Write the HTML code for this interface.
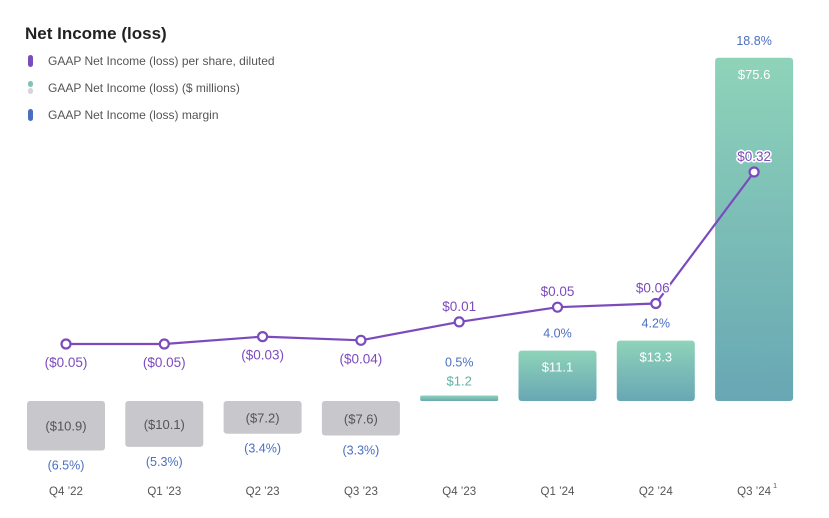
<!DOCTYPE html>
<html><head><meta charset="utf-8">
<style>
body{margin:0;background:#fff;font-family:"Liberation Sans",sans-serif;}
svg text{font-family:"Liberation Sans",sans-serif;}
</style></head>
<body>
<svg width="829" height="513" viewBox="0 0 829 513" xmlns="http://www.w3.org/2000/svg">
<defs>
<linearGradient id="teal" x1="0" y1="0" x2="0" y2="1">
<stop offset="0" stop-color="#8ed3b9"/><stop offset="1" stop-color="#68a7b4"/>
</linearGradient>
</defs>
<text x="25" y="39" font-size="17" font-weight="bold" fill="#222">Net Income (loss)</text>
<g>
<rect x="28" y="55" width="5" height="12" rx="2.5" fill="#7b4bbd"/>
<text x="48" y="65" font-size="12" fill="#555">GAAP Net Income (loss) per share, diluted</text>
<rect x="28" y="81" width="5" height="6" rx="2.5" fill="#7fc4b6"/>
<rect x="28" y="88" width="5" height="6" rx="2.5" fill="#d6d4da"/>
<text x="48" y="92" font-size="12" fill="#555">GAAP Net Income (loss) ($ millions)</text>
<rect x="28" y="109" width="5" height="12" rx="2.5" fill="#4a6fc0"/>
<text x="48" y="119" font-size="12" fill="#555">GAAP Net Income (loss) margin</text>
</g>
<g id="plot"></g>
</svg>
<script>
const categories = ["Q4 \u201922","Q1 \u201923","Q2 \u201923","Q3 \u201923","Q4 \u201923","Q1 \u201924","Q2 \u201924","Q3 \u201924"];
const income = [-10.9,-10.1,-7.2,-7.6,1.2,11.1,13.3,75.6];
const incomeLabels = ["($10.9)","($10.1)","($7.2)","($7.6)","$1.2","$11.1","$13.3","$75.6"];
const margin = ["(6.5%)","(5.3%)","(3.4%)","(3.3%)","0.5%","4.0%","4.2%","18.8%"];
const eps = [-0.05,-0.05,-0.03,-0.04,0.01,0.05,0.06,0.32];
const epsLabels = ["($0.05)","($0.05)","($0.03)","($0.04)","$0.01","$0.05","$0.06","$0.32"];

const NS="http://www.w3.org/2000/svg";
const g=document.getElementById('plot');
function mk(tag,attrs,txt){const e=document.createElementNS(NS,tag);for(const k in attrs)e.setAttribute(k,attrs[k]);if(txt!==undefined)e.textContent=txt;g.appendChild(e);return e;}
const xC=i=>66+i*98.3;
const base=401, k=4.54;
const yI=v=>base-v*k;
const dom=[-0.05,0.06,0.32], rng=[344,303.5,172];
function yE(v){const j=v<=dom[1]?0:1;return rng[j]+(v-dom[j])*(rng[j+1]-rng[j])/(dom[j+1]-dom[j]);}
const bw=78;
income.forEach((v,i)=>{
  const x=xC(i)-bw/2;
  const top=v>=0?yI(v):base, h=Math.max(Math.abs(v)*k,3);
  const r=mk('rect',{x:x,y:top,width:bw,height:h,rx:v>=0&&h<8?1.5:3,fill:v>=0?'url(#teal)':'#c8c7cc'});
  
  
  let ly, col;
  if(v<0){ly=base+h/2+5;col='#555';}
  else if(h<20){ly=top-10;col='#5fb3a3';}
  else {ly=top+21;col='#fff';}
  const t=mk('text',{x:xC(i),y:ly,'text-anchor':'middle','font-size':13,fill:col},incomeLabels[i]);
  
  
  const my=v<0?base+h+19:(h<20?top-29:top-13);
  const m=mk('text',{x:xC(i),y:my,'text-anchor':'middle','font-size':12.5,fill:'#4a6fc0'},margin[i]);
  
  
  const c=mk('text',{x:xC(i),y:495,'text-anchor':'middle','font-size':11.5,fill:'#555'},categories[i]);
  
  
});
const sup=mk('text',{x:xC(7)+19,y:488,'font-size':7,fill:'#555'},'1');


const pts=eps.map((v,i)=>xC(i)+','+yE(v)).join(' ');
const line=mk('polyline',{points:pts,fill:'none',stroke:'#7b4bbd','stroke-width':2.2});


eps.forEach((v,i)=>{
  const c=mk('circle',{cx:xC(i),cy:yE(v),r:4.5,fill:'#fff',stroke:'#7b4bbd','stroke-width':2.2});
  
  
  const ly=v<0?yE(v)+23:yE(v)-11;
  const t=mk('text',{x:xC(i)-(i==6?3:0),y:ly,'text-anchor':'middle','font-size':13.5,fill:'#7b4bbd',stroke:'#fff','stroke-width':3,'paint-order':'stroke','stroke-linejoin':'round'},epsLabels[i]);
  
  
});
</script>
</body></html>
